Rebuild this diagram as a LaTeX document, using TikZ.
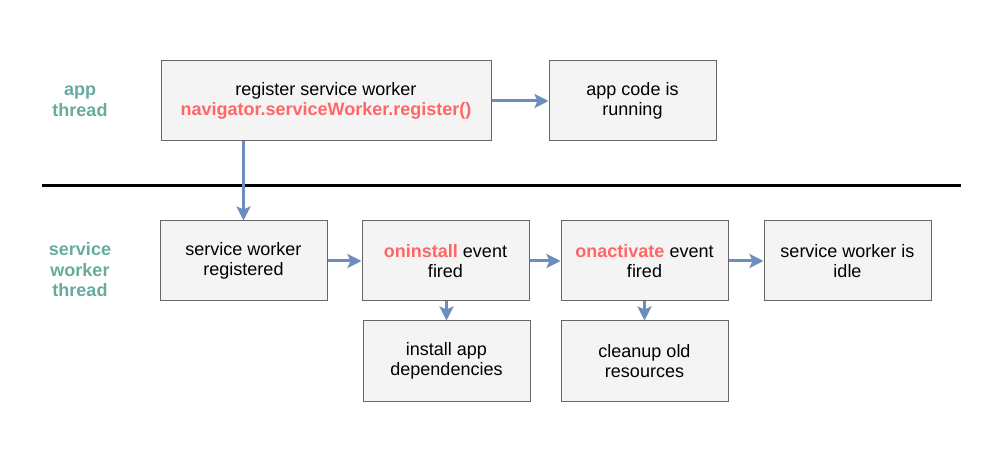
\documentclass[tikz,border=0pt]{standalone}
\usepackage{fontspec}
\setmainfont{Liberation Sans}
\usetikzlibrary{arrows.meta}
\definecolor{boxfill}{HTML}{F4F4F4}
\definecolor{boxline}{HTML}{666666}
\definecolor{arrowblue}{HTML}{6C8EBF}
\definecolor{redtxt}{HTML}{FF6666}
\definecolor{tealtxt}{HTML}{67AB9F}
\tikzset{
  box/.style={draw=boxline, fill=boxfill, line width=1pt, minimum height=80pt, minimum width=167pt, inner sep=0pt, align=center, font=\fontsize{18}{20.5}\selectfont},
  conn/.style={draw=arrowblue, line width=3pt, -{Stealth[length=14pt,width=14pt,inset=3pt]}},
  lane/.style={text=tealtxt, align=center, font=\fontsize{18}{20.5}\selectfont\bfseries},
}
\newcommand{\rd}[1]{\textcolor{redtxt}{\textbf{#1}}}
\begin{document}
\begin{tikzpicture}[x=1pt,y=-1pt]
\useasboundingbox (0,0) rectangle (1004,454);
\node[lane] (lapp) at (80,101) {app\\thread};
\node[lane] (lsw) at (80,270) {service\\worker\\thread};
\node[box, minimum width=330pt] (reg) at (326,101) {register service worker\\\rd{navigator.serviceWorker.register()}};
\node[box] (app) at (632.5,101) {app code is\\running};
\coordinate (l1) at (42,186);
\coordinate (l2) at (961,186);
\draw[line width=3pt] (l1) -- (l2);
\node[box] (swr) at (243.5,261) {service worker\\registered};
\node[box] (inst) at (445.5,261) {\rd{oninstall} event\\fired};
\node[box] (act) at (644.5,261) {\rd{onactivate} event\\fired};
\node[box] (idle) at (847.5,261) {service worker is\\idle};
\node[box] (dep) at (446.5,361) {install app\\dependencies};
\node[box] (clean) at (644.5,361) {cleanup old\\resources};
\draw[conn] (reg.east) -- (app.west);
\draw[conn] (reg.south -| swr.north) -- (swr.north);
\draw[conn] (swr.east) -- (inst.west);
\draw[conn] (inst.east) -- (act.west);
\draw[conn] (act.east) -- (idle.west);
\draw[conn] (inst.south -| dep.north) -- (dep.north);
\draw[conn] (act.south) -- (clean.north);
\end{tikzpicture}
\end{document}
